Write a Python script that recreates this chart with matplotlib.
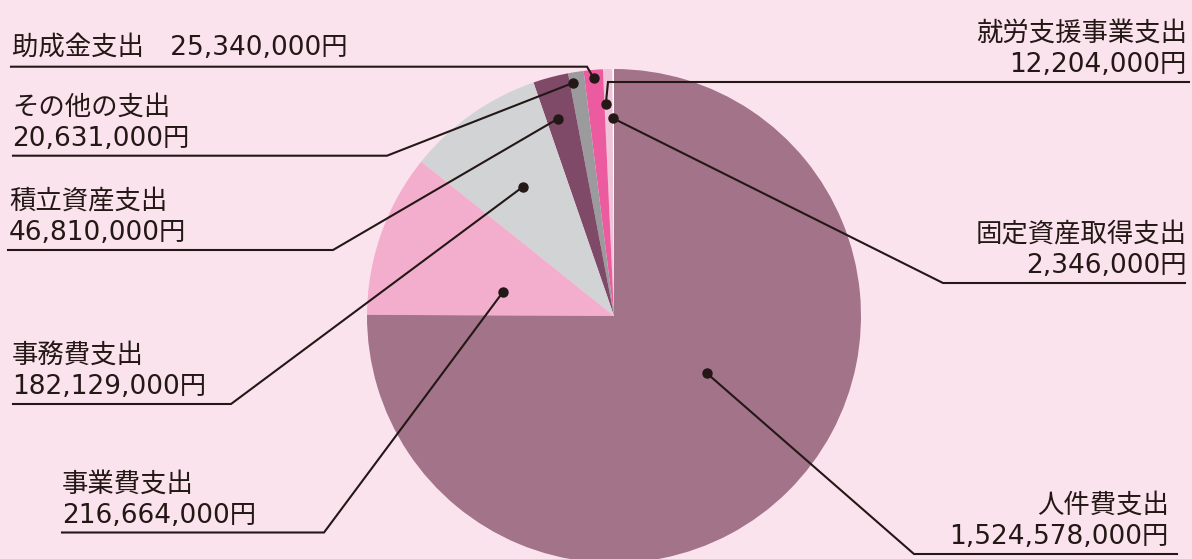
import numpy as np
import matplotlib
matplotlib.use("Agg")
import matplotlib.pyplot as plt

plt.rcParams['font.family'] = ['DejaVu Sans', 'Noto Sans CJK JP']

# ---- data (counter-clockwise from the top) ----
categories = ['固定資産取得支出', '就労支援事業支出', '助成金支出', 'その他の支出',
              '積立資産支出', '事務費支出', '事業費支出', '人件費支出']
values = [2346000, 12204000, 25340000, 20631000,
          46810000, 182129000, 216664000, 1524578000]
colors = ['#ffffff', '#edc4d8', '#ec5ba0', '#9b9b9e',
          '#7f4a68', '#d2d3d5', '#f4aecd', '#a27389']

W, H = 1192, 559
BG = '#fbe3ee'
INK = '#231815'

fig = plt.figure(figsize=(W / 100, H / 100), dpi=100, facecolor=BG)
ax = fig.add_axes([0, 0, 1, 1])
ax.set_facecolor(BG)

cx, cy_img, R = 614, 316, 247
center = (cx, H - cy_img)
wedges, _ = ax.pie(values, colors=colors, startangle=90, counterclock=True,
                   radius=R, center=center, frame=True,
                   wedgeprops=dict(linewidth=0))
ax.set_xlim(0, W)
ax.set_ylim(0, H)
ax.set_aspect('equal')
ax.axis('off')


def Y(y):
    return H - y


def fmt(v):
    return f'{v:,}円'

# layout: dot position within wedge (t = angular fraction, r = radius fraction),
# elbow point (image px), line end x, line y, text side
layout = {
    '助成金支出':     dict(t=0.5, r=0.965, elbow=(587, 66.7), end=11, ly=66.7, side='L1'),
    'その他の支出':   dict(t=0.8, r=0.958, elbow=(387, 155.7), end=13, ly=155.7, side='L'),
    '積立資産支出':   dict(t=0.63, r=0.83, elbow=(333, 250), end=8, ly=250, side='L'),
    '事務費支出':     dict(t=0.5, r=0.64, elbow=(231, 404), end=13, ly=404, side='L'),
    '事業費支出':     dict(t=0.69, r=0.46, elbow=(324, 532.5), end=62, ly=532.5, side='L'),
    '就労支援事業支出': dict(t=0.82, r=0.86, elbow=(608, 82), end=1189, ly=82, side='R'),
    '固定資産取得支出': dict(t=0.5, r=0.80, elbow=(943, 283), end=1185, ly=283, side='R'),
    '人件費支出':     dict(t=0.55, r=0.44, elbow=(914, 554), end=1177, ly=554, side='R'),
}
text_x = {'助成金支出': 12, 'その他の支出': 12, '積立資産支出': 9, '事務費支出': 12,
          '事業費支出': 62, '就労支援事業支出': 1187, '固定資産取得支出': 1187,
          '人件費支出': 1169}

FS = 19
for w, cat, val in zip(wedges, categories, values):
    L = layout[cat]
    th = np.deg2rad(w.theta1 + L['t'] * (w.theta2 - w.theta1))
    dx = center[0] + L['r'] * R * np.cos(th)
    dy = center[1] + L['r'] * R * np.sin(th)
    ex, ey = L['elbow']
    ax.plot([dx, ex, L['end']], [dy, Y(ey), Y(L['ly'])], color=INK, lw=1.5,
            solid_joinstyle='miter', zorder=5)
    ax.plot([dx], [dy], 'o', color=INK, ms=6.5, zorder=6)
    base2 = L['ly'] - 10
    tx = text_x[cat]
    if L['side'] == 'L1':
        ax.text(tx, Y(L['ly'] - 12), f'{cat}\u3000{fmt(val)}', fontsize=FS,
                color=INK, ha='left', va='baseline')
    else:
        ha = 'left' if L['side'] == 'L' else 'right'
        ax.text(tx, Y(base2 - 31), cat, fontsize=FS, color=INK, ha=ha, va='baseline')
        ax.text(tx, Y(base2), fmt(val), fontsize=FS, color=INK, ha=ha, va='baseline')

fig.savefig('out.png', dpi=100, facecolor=BG)
